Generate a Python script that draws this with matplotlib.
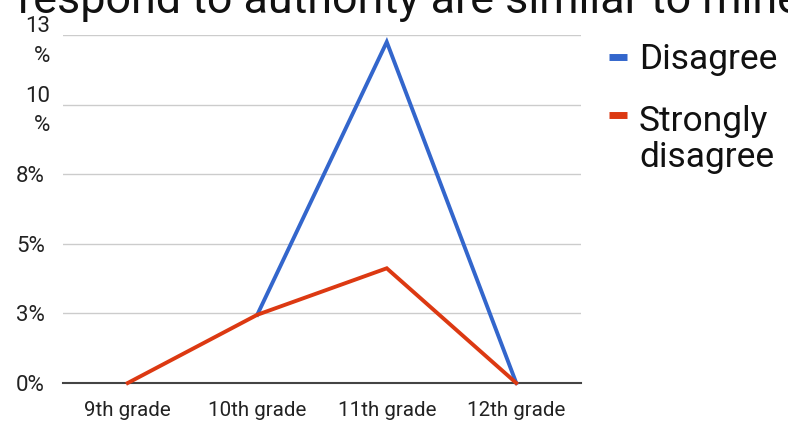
import numpy as np
import matplotlib
matplotlib.use("Agg")
import matplotlib.pyplot as plt
from matplotlib.lines import Line2D
from matplotlib.transforms import ScaledTranslation

plt.rcParams['font.family'] = ['Roboto', 'DejaVu Sans']

title = "respond to authority are similar to mine"
categories = ["9th grade", "10th grade", "11th grade", "12th grade"]
series_names = ["Disagree", "Strongly\ndisagree"]
disagree = [np.nan, 2.45, 12.25, 0.0]
strongly_disagree = [0.0, 2.45, 4.12, 0.0]
ytick_values = [0, 2.5, 5, 7.5, 10, 12.5]
ytick_labels = ["0%", "3%", "5%", "8%", "10\n%", "13\n%"]
colors = ["#3366cc", "#dc3912"]

W, H = 788, 424
fig = plt.figure(figsize=(W / 100, H / 100), dpi=100)
ax = fig.add_axes([63 / W, 41 / H, 518 / W, 348 / H])

x = np.arange(len(categories))
for vals, c in zip([disagree, strongly_disagree], colors):
    ax.plot(x, vals, color=c, lw=2.8, solid_joinstyle='miter', clip_on=False, zorder=3)

ax.set_xlim(-0.5, len(categories) - 0.5)
ax.set_ylim(0, 12.5)
ax.set_yticks(ytick_values)
ax.set_yticklabels(ytick_labels, fontsize=16, color='#222222', linespacing=1.5)
ax.set_xticks(x)
ax.set_xticklabels(categories, fontsize=14.8, color='#222222')
ax.tick_params(axis='y', length=0, pad=13)
ax.tick_params(axis='x', length=0, pad=13)
for lbl in ax.get_yticklabels():
    if "\n" in lbl.get_text():
        lbl.set_transform(lbl.get_transform() + ScaledTranslation(5 / 100, 0, fig.dpi_scale_trans))
ax.grid(axis='y', color='#cccccc', lw=1)
ax.set_axisbelow(True)
for s in ['top', 'right', 'left']:
    ax.spines[s].set_visible(False)
ax.spines['bottom'].set_color('#444444')
ax.spines['bottom'].set_linewidth(1.5)
ax.spines['bottom'].set_zorder(2)

fig.text(18 / W, 1 - 13 / H, title, fontsize=32.3, ha='left', va='baseline', color='#111111')

# legend
first_baselines = [69, 127]
line_gap = 40
for name, c, yb in zip(series_names, colors, first_baselines):
    ycen = yb - 12
    fig.add_artist(Line2D([609 / W, 627 / W], [1 - ycen / H, 1 - ycen / H], color=c, lw=5,
                          transform=fig.transFigure, solid_capstyle='butt'))
    nlines = name.count("\n")
    fig.text(639 / W, 1 - (yb + nlines * line_gap) / H, name, fontsize=25.5, ha='left',
             va='baseline', color='#111111', linespacing=1.1)

fig.savefig("out.png", dpi=100)
